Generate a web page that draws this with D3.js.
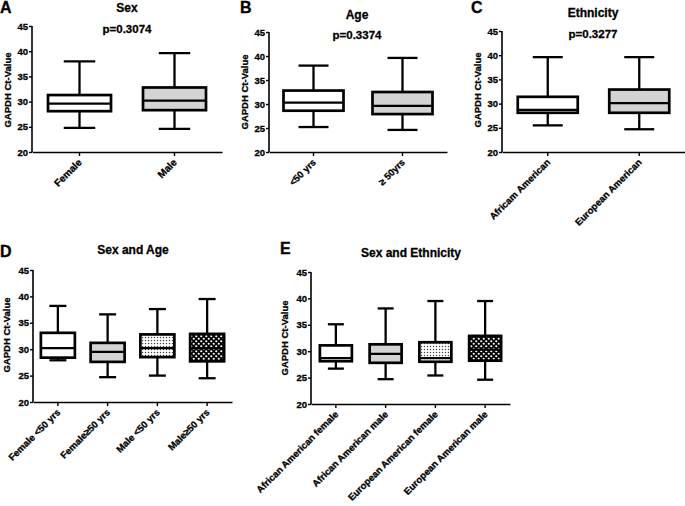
<!DOCTYPE html>
<html><head><meta charset="utf-8">
<script src="https://cdn.jsdelivr.net/npm/d3@7"></script>
<style>body{margin:0;background:#fff}svg{display:block}svg text{font-family:"Liberation Sans","DejaVu Sans",Arial,sans-serif;font-weight:bold;fill:#000;stroke:#000;stroke-width:0.3px}</style>
</head><body>
<script>
const yTicks = [20, 25, 30, 35, 40, 45];

// A: Sex
const sexCats = ["Female", "Male"];
const sexMin = [24.8, 24.6], sexQ1 = [28.1, 28.3], sexMed = [29.6, 30.2], sexQ3 = [31.3, 32.8], sexMax = [38.0, 39.6];
const sexFill = ["white", "gray"];
// B: Age
const ageCats = ["<50 yrs", "\u2265 50yrs"];
const ageMin = [25.2, 24.6], ageQ1 = [28.6, 27.9], ageMed = [30.3, 29.6], ageQ3 = [32.8, 32.5], ageMax = [38.0, 39.6];
const ageFill = ["white", "gray"];
// C: Ethnicity
const ethCats = ["Africam American", "European American"];
const ethMin = [25.5, 24.7], ethQ1 = [28.1, 28.1], ethMed = [28.7, 30.1], ethQ3 = [31.4, 32.9], ethMax = [39.6, 39.6];
const ethFill = ["white", "gray"];
// D: Sex and Age
const saCats = ["Female <50 yrs", "Female\u226550 yrs", "Male <50 yrs", "Male\u226550 yrs"];
const saMin = [27.9, 24.7, 25.0, 24.5], saQ1 = [28.4, 27.6, 28.5, 27.7], saMed = [30.2, 29.5, 30.2, 30.2], saQ3 = [33.1, 31.2, 32.8, 32.9], saMax = [38.2, 36.6, 37.6, 39.5];
const saFill = ["white", "gray", "dots", "dark"];
// E: Sex and Ethnicity
const seCats = ["African American female", "African American male", "European American female", "European American male"];
const seMin = [26.7, 24.7, 25.4, 24.6], seQ1 = [28.1, 27.8, 28.0, 28.2], seMed = [28.7, 29.5, 28.7, 30.3], seQ3 = [31.1, 31.3, 31.7, 32.9], seMax = [35.1, 38.1, 39.5, 39.5];
const seFill = ["white", "gray", "dots", "dark"];

const panelTitles = ["Sex", "Age", "Ethnicity", "Sex and Age", "Sex and Ethnicity"];
const pValues = ["p=0.3074", "p=0.3374", "p=0.3277", null, null];
const letters = ["A", "B", "C", "D", "E"];

const svg = d3.select("body").append("svg").attr("width", 685).attr("height", 506);
const defs = svg.append("defs");
const pd = defs.append("pattern").attr("id", "dots").attr("patternUnits", "userSpaceOnUse").attr("width", 3).attr("height", 3);
pd.append("rect").attr("width", 3).attr("height", 3).attr("fill", "#fff");
pd.append("circle").attr("cx", 1.5).attr("cy", 1.5).attr("r", 0.75).attr("fill", "#444");
const pk = defs.append("pattern").attr("id", "dark").attr("patternUnits", "userSpaceOnUse").attr("width", 5).attr("height", 5);
pk.append("rect").attr("width", 5).attr("height", 5).attr("fill", "#000");
pk.append("circle").attr("cx", 1.25).attr("cy", 1.25).attr("r", 1.1).attr("fill", "#fff");
pk.append("circle").attr("cx", 3.75).attr("cy", 3.75).attr("r", 1.1).attr("fill", "#fff");
const fillMap = { white: "#fff", gray: "#d3d3d3", dots: "url(#dots)", dark: "url(#dark)" };

const panels = [
  { cats: sexCats, mn: sexMin, q1: sexQ1, md: sexMed, q3: sexQ3, mx: sexMax, fill: sexFill, xfs: 10,
    x0: 32, x1: 222, yTop: 26, yBot: 152, bw: 63, title: [127, 12], p: [127, 33], letter: [0, 13], ylab: [11, 90] },
  { cats: ageCats, mn: ageMin, q1: ageQ1, md: ageMed, q3: ageQ3, mx: ageMax, fill: ageFill, xfs: 9.5,
    x0: 269, x1: 447, yTop: 32, yBot: 152, bw: 60, title: [357, 19], p: [357, 39], letter: [240, 13], ylab: [248, 92] },
  { cats: ethCats, mn: ethMin, q1: ethQ1, md: ethMed, q3: ethQ3, mx: ethMax, fill: ethFill, xfs: 9.5,
    x0: 502, x1: 685, yTop: 31, yBot: 152, bw: 60, title: [593, 17], p: [593, 38], letter: [471, 13], ylab: [481, 90] },
  { cats: saCats, mn: saMin, q1: saQ1, md: saMed, q3: saQ3, mx: saMax, fill: saFill, xfs: 9.5,
    x0: 33, x1: 232, yTop: 270, yBot: 402, bw: 34, title: [133, 254], p: null, letter: [0, 257], ylab: [10, 335] },
  { cats: seCats, mn: seMin, q1: seQ1, md: seMed, q3: seQ3, mx: seMax, fill: seFill, xfs: 9.5,
    x0: 311, x1: 510, yTop: 272, yBot: 404, bw: 32, title: [411, 257], p: null, letter: [280, 254], ylab: [288, 338] }
];

panels.forEach((P, i) => {
  const g = svg.append("g");
  const y = d3.scaleLinear().domain([20, 45]).range([P.yBot, P.yTop]);
  const x = d3.scaleBand().domain(P.cats).range([P.x0, P.x1]);
  const yAx = g.append("g").attr("transform", `translate(${P.x0},0)`)
    .call(d3.axisLeft(y).tickValues(yTicks).tickSize(3).tickPadding(1));
  const xAx = g.append("g").attr("transform", `translate(0,${P.yBot})`)
    .call(d3.axisBottom(x).tickSize(4).tickSizeOuter(0));
  [yAx, xAx].forEach(a => {
    a.attr("font-family", null).attr("font-size", null);
    a.select(".domain").attr("stroke", "#000").attr("stroke-width", 1.6);
    a.selectAll(".tick line").attr("stroke", "#000").attr("stroke-width", 1.4);
  });
  yAx.select(".domain").attr("d", `M0,${P.yTop}V${P.yBot}`);
  yAx.selectAll(".tick text").attr("font-size", 9.5).attr("fill", "#000");
  xAx.selectAll(".tick text").attr("font-size", P.xfs).attr("fill", "#000")
    .attr("text-anchor", "end").attr("dy", 0).attr("y", 0)
    .attr("transform", "translate(3,11) rotate(-45)");

  // boxes
  P.cats.forEach((c, j) => {
    const cx = x(c) + x.bandwidth() / 2;
    const hw = P.bw / 2, cw = P.bw * 0.25;
    const bg = g.append("g").attr("stroke", "#000").attr("stroke-width", 2.3).attr("fill", "none");
    bg.append("line").attr("x1", cx).attr("x2", cx).attr("y1", y(P.mx[j])).attr("y2", y(P.q3[j]));
    bg.append("line").attr("x1", cx).attr("x2", cx).attr("y1", y(P.q1[j])).attr("y2", y(P.mn[j]));
    bg.append("line").attr("x1", cx - cw).attr("x2", cx + cw).attr("y1", y(P.mx[j])).attr("y2", y(P.mx[j]));
    bg.append("line").attr("x1", cx - cw).attr("x2", cx + cw).attr("y1", y(P.mn[j])).attr("y2", y(P.mn[j]));
    bg.append("rect").attr("x", cx - hw).attr("width", P.bw)
      .attr("y", y(P.q3[j])).attr("height", y(P.q1[j]) - y(P.q3[j]))
      .attr("fill", fillMap[P.fill[j]]).attr("stroke-width", 2.7);
    bg.append("line").attr("x1", cx - hw).attr("x2", cx + hw).attr("y1", y(P.md[j])).attr("y2", y(P.md[j])).attr("stroke-width", 2.3);
  });

  g.append("text").attr("x", P.title[0]).attr("y", P.title[1]).attr("text-anchor", "middle").attr("font-size", 12).text(panelTitles[i]);
  if (P.p) g.append("text").attr("x", P.p[0]).attr("y", P.p[1]).attr("text-anchor", "middle").attr("font-size", 11.5).text(pValues[i]);
  g.append("text").attr("x", P.letter[0]).attr("y", P.letter[1]).attr("font-size", 16).text(letters[i]);
  g.append("text").attr("transform", `translate(${P.ylab[0]},${P.ylab[1]}) rotate(-90)`).attr("text-anchor", "middle")
    .attr("font-size", 9.5).text("GAPDH Ct-Value");
});
</script>
</body></html>
